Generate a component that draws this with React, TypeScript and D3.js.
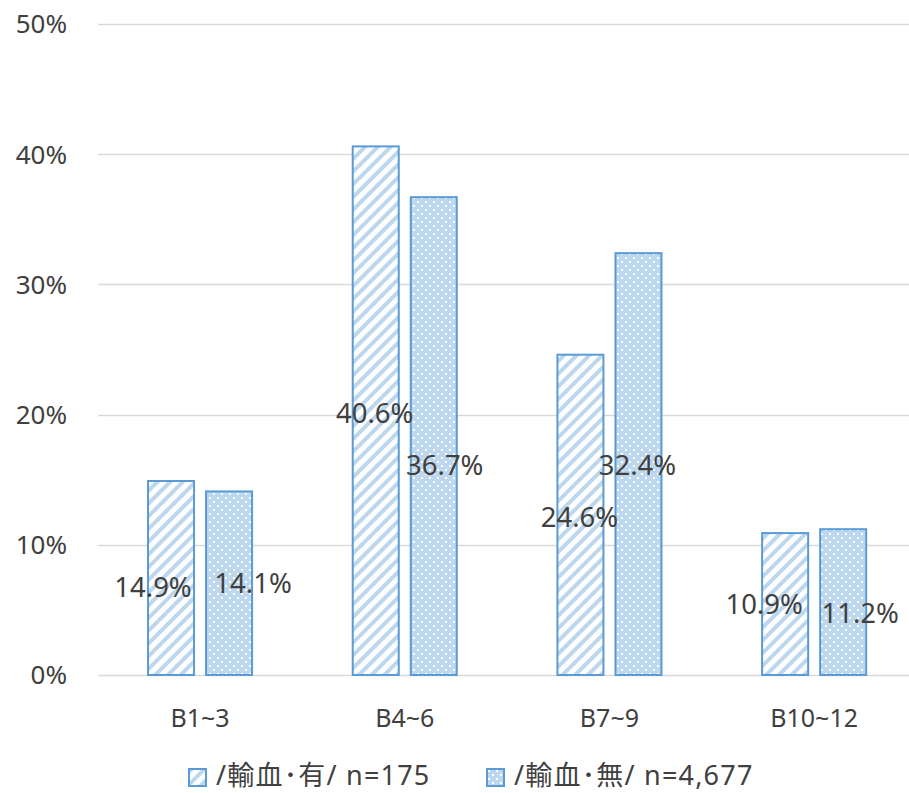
import { useEffect, useRef } from 'react';
import * as d3 from 'd3';

const categories = ['B1~3', 'B4~6', 'B7~9', 'B10~12'];
const seriesNames = ['/輸血･有/ n=175', '/輸血･無/ n=4,677'];
const withTransfusion = [14.9, 40.6, 24.6, 10.9];
const withoutTransfusion = [14.1, 36.7, 32.4, 11.2];
const yTicks = [0, 10, 20, 30, 40, 50];
// nudges of the data labels, as placed in the original
const labelDx = [
  [-18, -1, -1, -21],
  [24, 11, -1, 17],
];
const labelDy = [
  [9, 2, 2, 0],
  [0, 29, 1, 11],
];

const W = 909;
const H = 793;
const margin = { top: 24, bottom: 118, left: 98 };
const FONT = '"Noto Sans", "Noto Sans CJK JP", sans-serif';
const TEXT = '#404040';
const STROKE = '#5B9BD5';
const LIGHT = '#BDD7EE';

export default function App() {
  const ref = useRef<SVGSVGElement>(null);

  useEffect(() => {
    if (!ref.current) return;
    const svg = d3.select(ref.current);
    svg.selectAll('*').remove();

    const defs = svg.append('defs');
    const hatch = defs
      .append('pattern')
      .attr('id', 'hatch')
      .attr('patternUnits', 'userSpaceOnUse')
      .attr('width', 9)
      .attr('height', 9)
      .attr('patternTransform', 'rotate(45)');
    hatch.append('rect').attr('width', 9).attr('height', 9).attr('fill', '#fff');
    hatch.append('rect').attr('width', 4).attr('height', 9).attr('fill', LIGHT);

    const dots = defs
      .append('pattern')
      .attr('id', 'dots')
      .attr('patternUnits', 'userSpaceOnUse')
      .attr('width', 8)
      .attr('height', 8);
    dots.append('rect').attr('width', 8).attr('height', 8).attr('fill', LIGHT);
    dots.append('rect').attr('x', 1).attr('y', 1).attr('width', 2).attr('height', 2).attr('fill', '#fff');
    dots.append('rect').attr('x', 5).attr('y', 5).attr('width', 2).attr('height', 2).attr('fill', '#fff');

    const y = d3.scaleLinear().domain([0, 50]).range([H - margin.bottom, margin.top]);
    const x = d3.scaleBand().domain(categories).range([97.7, 916.5]).paddingInner(0).paddingOuter(0);
    const inner = d3.scaleBand().domain(['0', '1']).range([0, x.bandwidth()]).paddingInner(0.207).paddingOuter(0.867);

    // gridlines
    svg
      .append('g')
      .selectAll('line')
      .data(yTicks)
      .join('line')
      .attr('x1', margin.left)
      .attr('x2', W)
      .attr('y1', (d) => Math.round(y(d)) + 0.5)
      .attr('y2', (d) => Math.round(y(d)) + 0.5)
      .attr('stroke', '#D9D9D9')
      .attr('stroke-width', 1.5);

    svg
      .append('g')
      .selectAll('text')
      .data(yTicks)
      .join('text')
      .attr('x', 67)
      .attr('y', (d) => y(d))
      .attr('dy', '0.36em')
      .attr('text-anchor', 'end')
      .attr('font-family', FONT)
      .attr('font-size', 26)
      .attr('fill', TEXT)
      .text((d) => `${d}%`);

    const series = [withTransfusion, withoutTransfusion];
    const fills = ['url(#hatch)', 'url(#dots)'];

    series.forEach((vals, si) => {
      const g = svg.append('g');
      g.selectAll('rect')
        .data(vals)
        .join('rect')
        .attr('x', (_, i) => (x(categories[i]) as number) + (inner(String(si)) as number))
        .attr('y', (d) => y(d))
        .attr('width', inner.bandwidth())
        .attr('height', (d) => y(0) - y(d))
        .attr('fill', fills[si])
        .attr('stroke', STROKE)
        .attr('stroke-width', 2);
    });

    series.forEach((vals, si) => {
      svg
        .append('g')
        .selectAll('text')
        .data(vals)
        .join('text')
        .attr(
          'x',
          (_, i) =>
            (x(categories[i]) as number) + (inner(String(si)) as number) + inner.bandwidth() / 2 + labelDx[si][i]
        )
        .attr('y', (d, i) => (y(d) + y(0)) / 2 + labelDy[si][i])
        .attr('dy', '0.36em')
        .attr('text-anchor', 'middle')
        .attr('font-family', FONT)
        .attr('font-size', 27.5)
        .attr('fill', TEXT)
        .text((d) => `${d.toFixed(1)}%`);
    });

    // category labels
    svg
      .append('g')
      .selectAll('text')
      .data(categories)
      .join('text')
      .attr('x', (d) => (x(d) as number) + x.bandwidth() / 2)
      .attr('y', 718)
      .attr('dy', '0.36em')
      .attr('text-anchor', 'middle')
      .attr('font-family', FONT)
      .attr('font-size', 25)
      .attr('fill', TEXT)
      .text((d) => d);

    // legend
    const legendX = [189, 487];
    seriesNames.forEach((name, si) => {
      const lg = svg.append('g').attr('transform', `translate(${legendX[si]},769)`);
      lg.append('rect')
        .attr('width', 17)
        .attr('height', 17)
        .attr('fill', fills[si])
        .attr('stroke', STROKE)
        .attr('stroke-width', 2);
      lg.append('text')
        .attr('x', 27)
        .attr('y', 16)
        .attr('font-family', FONT)
        .attr('font-size', 27)
        .attr('letter-spacing', 1.2)
        .attr('fill', TEXT)
        .text(name);
    });
  }, []);

  return (
    <div style={{ position: 'fixed', left: 0, top: 0, width: W, height: H, overflow: 'hidden' }}>
      <svg ref={ref} width={W} height={H} style={{ display: 'block', background: '#fff' }} />
    </div>
  );
}
